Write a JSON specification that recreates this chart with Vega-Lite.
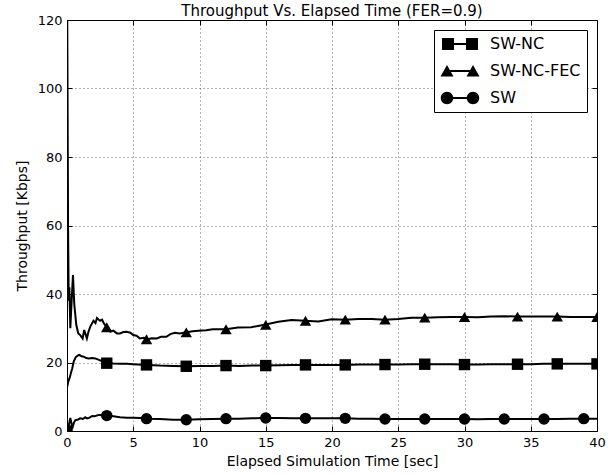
{
  "$schema": "https://vega.github.io/schema/vega-lite/v6.json",
  "width": 530,
  "height": 411,
  "autosize": {"type": "none"},
  "padding": {"left": 67, "top": 20, "right": 18, "bottom": 44},
  "background": "white",
  "title": {"text": "Throughput Vs. Elapsed Time (FER=0.9)", "fontSize": 15, "font": "DejaVu Sans", "fontWeight": "normal", "color": "#000", "offset": -5, "anchor": "middle"},
  "config": {
    "view": {"stroke": "#000", "strokeWidth": 1},
    "font": "DejaVu Sans"
  },
  "datasets": {
    "curves": [
      {"series": "SW-NC-FEC", "time": 0.02, "kbps": 120},
      {"series": "SW-NC-FEC", "time": 0.08, "kbps": 60},
      {"series": "SW-NC-FEC", "time": 0.13, "kbps": 38},
      {"series": "SW-NC-FEC", "time": 0.18, "kbps": 42},
      {"series": "SW-NC-FEC", "time": 0.25, "kbps": 30},
      {"series": "SW-NC-FEC", "time": 0.35, "kbps": 38},
      {"series": "SW-NC-FEC", "time": 0.45, "kbps": 45.5},
      {"series": "SW-NC-FEC", "time": 0.55, "kbps": 37},
      {"series": "SW-NC-FEC", "time": 0.7, "kbps": 31},
      {"series": "SW-NC-FEC", "time": 0.85, "kbps": 28.5},
      {"series": "SW-NC-FEC", "time": 1.0, "kbps": 28},
      {"series": "SW-NC-FEC", "time": 1.18, "kbps": 27},
      {"series": "SW-NC-FEC", "time": 1.3, "kbps": 29.5},
      {"series": "SW-NC-FEC", "time": 1.5, "kbps": 27},
      {"series": "SW-NC-FEC", "time": 1.62, "kbps": 29},
      {"series": "SW-NC-FEC", "time": 1.76, "kbps": 30.5},
      {"series": "SW-NC-FEC", "time": 1.9, "kbps": 31.5},
      {"series": "SW-NC-FEC", "time": 2.0, "kbps": 32.2},
      {"series": "SW-NC-FEC", "time": 2.15, "kbps": 31.5},
      {"series": "SW-NC-FEC", "time": 2.26, "kbps": 33},
      {"series": "SW-NC-FEC", "time": 2.4, "kbps": 32.5},
      {"series": "SW-NC-FEC", "time": 2.5, "kbps": 32.2},
      {"series": "SW-NC-FEC", "time": 2.65, "kbps": 32.5},
      {"series": "SW-NC-FEC", "time": 2.77, "kbps": 31.5},
      {"series": "SW-NC-FEC", "time": 3.0, "kbps": 30.3},
      {"series": "SW-NC-FEC", "time": 3.27, "kbps": 29},
      {"series": "SW-NC-FEC", "time": 3.5, "kbps": 29.3},
      {"series": "SW-NC-FEC", "time": 3.77, "kbps": 28.5},
      {"series": "SW-NC-FEC", "time": 4.0, "kbps": 28.5},
      {"series": "SW-NC-FEC", "time": 4.25, "kbps": 28.9},
      {"series": "SW-NC-FEC", "time": 4.5, "kbps": 29},
      {"series": "SW-NC-FEC", "time": 4.78, "kbps": 28.7},
      {"series": "SW-NC-FEC", "time": 5.0, "kbps": 28},
      {"series": "SW-NC-FEC", "time": 5.25, "kbps": 27.8},
      {"series": "SW-NC-FEC", "time": 5.5, "kbps": 27},
      {"series": "SW-NC-FEC", "time": 5.8, "kbps": 27.2},
      {"series": "SW-NC-FEC", "time": 6.1, "kbps": 26.8},
      {"series": "SW-NC-FEC", "time": 6.4, "kbps": 27.1},
      {"series": "SW-NC-FEC", "time": 6.77, "kbps": 27},
      {"series": "SW-NC-FEC", "time": 7.1, "kbps": 27.5},
      {"series": "SW-NC-FEC", "time": 7.5, "kbps": 27.5},
      {"series": "SW-NC-FEC", "time": 7.8, "kbps": 28.3},
      {"series": "SW-NC-FEC", "time": 8.15, "kbps": 28.7},
      {"series": "SW-NC-FEC", "time": 8.5, "kbps": 28.5},
      {"series": "SW-NC-FEC", "time": 9.0, "kbps": 28.8},
      {"series": "SW-NC-FEC", "time": 9.5, "kbps": 29.1},
      {"series": "SW-NC-FEC", "time": 9.9, "kbps": 29.3},
      {"series": "SW-NC-FEC", "time": 10.5, "kbps": 29.4},
      {"series": "SW-NC-FEC", "time": 11.0, "kbps": 29.7},
      {"series": "SW-NC-FEC", "time": 12.0, "kbps": 29.7},
      {"series": "SW-NC-FEC", "time": 12.9, "kbps": 30.2},
      {"series": "SW-NC-FEC", "time": 13.9, "kbps": 30.3},
      {"series": "SW-NC-FEC", "time": 14.9, "kbps": 31},
      {"series": "SW-NC-FEC", "time": 15.95, "kbps": 31.9},
      {"series": "SW-NC-FEC", "time": 16.96, "kbps": 32.4},
      {"series": "SW-NC-FEC", "time": 17.96, "kbps": 32.2},
      {"series": "SW-NC-FEC", "time": 18.97, "kbps": 32},
      {"series": "SW-NC-FEC", "time": 19.98, "kbps": 32.6},
      {"series": "SW-NC-FEC", "time": 21, "kbps": 32.5},
      {"series": "SW-NC-FEC", "time": 22, "kbps": 32.7},
      {"series": "SW-NC-FEC", "time": 23, "kbps": 32.7},
      {"series": "SW-NC-FEC", "time": 24, "kbps": 32.5},
      {"series": "SW-NC-FEC", "time": 25, "kbps": 32.7},
      {"series": "SW-NC-FEC", "time": 26, "kbps": 33.1},
      {"series": "SW-NC-FEC", "time": 27, "kbps": 33.1},
      {"series": "SW-NC-FEC", "time": 28, "kbps": 33.2},
      {"series": "SW-NC-FEC", "time": 29, "kbps": 33.3},
      {"series": "SW-NC-FEC", "time": 30, "kbps": 33.3},
      {"series": "SW-NC-FEC", "time": 31, "kbps": 33.2},
      {"series": "SW-NC-FEC", "time": 32, "kbps": 33.4},
      {"series": "SW-NC-FEC", "time": 33, "kbps": 33.5},
      {"series": "SW-NC-FEC", "time": 34, "kbps": 33.4},
      {"series": "SW-NC-FEC", "time": 35, "kbps": 33.4},
      {"series": "SW-NC-FEC", "time": 36, "kbps": 33.4},
      {"series": "SW-NC-FEC", "time": 37, "kbps": 33.4},
      {"series": "SW-NC-FEC", "time": 38, "kbps": 33.3},
      {"series": "SW-NC-FEC", "time": 39, "kbps": 33.3},
      {"series": "SW-NC-FEC", "time": 40, "kbps": 33.3},
      {"series": "SW-NC", "time": 0.02, "kbps": 13},
      {"series": "SW-NC", "time": 0.1, "kbps": 14.5},
      {"series": "SW-NC", "time": 0.2, "kbps": 15.5},
      {"series": "SW-NC", "time": 0.3, "kbps": 17},
      {"series": "SW-NC", "time": 0.4, "kbps": 18.3},
      {"series": "SW-NC", "time": 0.5, "kbps": 20.2},
      {"series": "SW-NC", "time": 0.65, "kbps": 21.5},
      {"series": "SW-NC", "time": 0.8, "kbps": 22},
      {"series": "SW-NC", "time": 0.93, "kbps": 22.2},
      {"series": "SW-NC", "time": 1.1, "kbps": 21.8},
      {"series": "SW-NC", "time": 1.26, "kbps": 21.7},
      {"series": "SW-NC", "time": 1.45, "kbps": 21.3},
      {"series": "SW-NC", "time": 1.64, "kbps": 21.2},
      {"series": "SW-NC", "time": 1.9, "kbps": 21.3},
      {"series": "SW-NC", "time": 2.14, "kbps": 21.2},
      {"series": "SW-NC", "time": 2.5, "kbps": 20.6},
      {"series": "SW-NC", "time": 2.9, "kbps": 19.9},
      {"series": "SW-NC", "time": 3.5, "kbps": 19.7},
      {"series": "SW-NC", "time": 4.0, "kbps": 19.6},
      {"series": "SW-NC", "time": 4.5, "kbps": 19.6},
      {"series": "SW-NC", "time": 5.0, "kbps": 19.5},
      {"series": "SW-NC", "time": 6.0, "kbps": 19.3},
      {"series": "SW-NC", "time": 7.0, "kbps": 19.1},
      {"series": "SW-NC", "time": 8.0, "kbps": 19.0},
      {"series": "SW-NC", "time": 9.0, "kbps": 18.9},
      {"series": "SW-NC", "time": 10, "kbps": 19.0},
      {"series": "SW-NC", "time": 11, "kbps": 19.0},
      {"series": "SW-NC", "time": 12, "kbps": 19.1},
      {"series": "SW-NC", "time": 13, "kbps": 19.0},
      {"series": "SW-NC", "time": 14, "kbps": 19.1},
      {"series": "SW-NC", "time": 15, "kbps": 19.1},
      {"series": "SW-NC", "time": 16, "kbps": 19.2},
      {"series": "SW-NC", "time": 17, "kbps": 19.3},
      {"series": "SW-NC", "time": 18, "kbps": 19.3},
      {"series": "SW-NC", "time": 19, "kbps": 19.3},
      {"series": "SW-NC", "time": 20, "kbps": 19.3},
      {"series": "SW-NC", "time": 21, "kbps": 19.3},
      {"series": "SW-NC", "time": 22, "kbps": 19.4},
      {"series": "SW-NC", "time": 23, "kbps": 19.4},
      {"series": "SW-NC", "time": 24, "kbps": 19.4},
      {"series": "SW-NC", "time": 25, "kbps": 19.4},
      {"series": "SW-NC", "time": 26, "kbps": 19.5},
      {"series": "SW-NC", "time": 27, "kbps": 19.5},
      {"series": "SW-NC", "time": 28, "kbps": 19.5},
      {"series": "SW-NC", "time": 29, "kbps": 19.5},
      {"series": "SW-NC", "time": 30, "kbps": 19.4},
      {"series": "SW-NC", "time": 31, "kbps": 19.4},
      {"series": "SW-NC", "time": 32, "kbps": 19.5},
      {"series": "SW-NC", "time": 33, "kbps": 19.5},
      {"series": "SW-NC", "time": 34, "kbps": 19.5},
      {"series": "SW-NC", "time": 35, "kbps": 19.5},
      {"series": "SW-NC", "time": 36, "kbps": 19.6},
      {"series": "SW-NC", "time": 37, "kbps": 19.6},
      {"series": "SW-NC", "time": 38, "kbps": 19.6},
      {"series": "SW-NC", "time": 39, "kbps": 19.6},
      {"series": "SW-NC", "time": 40, "kbps": 19.6},
      {"series": "SW", "time": 0.02, "kbps": 1.0},
      {"series": "SW", "time": 0.1, "kbps": 0.8},
      {"series": "SW", "time": 0.18, "kbps": 2.5},
      {"series": "SW", "time": 0.25, "kbps": 3.8},
      {"series": "SW", "time": 0.35, "kbps": 2.0},
      {"series": "SW", "time": 0.43, "kbps": 1.2},
      {"series": "SW", "time": 0.53, "kbps": 2.5},
      {"series": "SW", "time": 0.63, "kbps": 3.2},
      {"series": "SW", "time": 0.8, "kbps": 3.3},
      {"series": "SW", "time": 1.0, "kbps": 3.7},
      {"series": "SW", "time": 1.2, "kbps": 3.5},
      {"series": "SW", "time": 1.38, "kbps": 4.0},
      {"series": "SW", "time": 1.5, "kbps": 3.7},
      {"series": "SW", "time": 1.64, "kbps": 3.8},
      {"series": "SW", "time": 1.9, "kbps": 4.4},
      {"series": "SW", "time": 2.1, "kbps": 4.3},
      {"series": "SW", "time": 2.4, "kbps": 4.7},
      {"series": "SW", "time": 2.7, "kbps": 4.6},
      {"series": "SW", "time": 3.0, "kbps": 4.5},
      {"series": "SW", "time": 3.5, "kbps": 4.3},
      {"series": "SW", "time": 4.0, "kbps": 4.0},
      {"series": "SW", "time": 4.5, "kbps": 3.9},
      {"series": "SW", "time": 5.0, "kbps": 3.9},
      {"series": "SW", "time": 5.5, "kbps": 3.8},
      {"series": "SW", "time": 6.0, "kbps": 3.6},
      {"series": "SW", "time": 7.0, "kbps": 3.5},
      {"series": "SW", "time": 8.0, "kbps": 3.3},
      {"series": "SW", "time": 9.0, "kbps": 3.3},
      {"series": "SW", "time": 10, "kbps": 3.4},
      {"series": "SW", "time": 11, "kbps": 3.5},
      {"series": "SW", "time": 12, "kbps": 3.6},
      {"series": "SW", "time": 13, "kbps": 3.6},
      {"series": "SW", "time": 14, "kbps": 3.7},
      {"series": "SW", "time": 15, "kbps": 3.8},
      {"series": "SW", "time": 16, "kbps": 3.8},
      {"series": "SW", "time": 17, "kbps": 3.7},
      {"series": "SW", "time": 18, "kbps": 3.7},
      {"series": "SW", "time": 19, "kbps": 3.7},
      {"series": "SW", "time": 20, "kbps": 3.7},
      {"series": "SW", "time": 21, "kbps": 3.7},
      {"series": "SW", "time": 22, "kbps": 3.6},
      {"series": "SW", "time": 23, "kbps": 3.6},
      {"series": "SW", "time": 24, "kbps": 3.5},
      {"series": "SW", "time": 25, "kbps": 3.5},
      {"series": "SW", "time": 26, "kbps": 3.5},
      {"series": "SW", "time": 27, "kbps": 3.5},
      {"series": "SW", "time": 28, "kbps": 3.5},
      {"series": "SW", "time": 29, "kbps": 3.5},
      {"series": "SW", "time": 30, "kbps": 3.5},
      {"series": "SW", "time": 31, "kbps": 3.4},
      {"series": "SW", "time": 32, "kbps": 3.5},
      {"series": "SW", "time": 33, "kbps": 3.5},
      {"series": "SW", "time": 34, "kbps": 3.5},
      {"series": "SW", "time": 35, "kbps": 3.5},
      {"series": "SW", "time": 36, "kbps": 3.5},
      {"series": "SW", "time": 37, "kbps": 3.5},
      {"series": "SW", "time": 38, "kbps": 3.6},
      {"series": "SW", "time": 39, "kbps": 3.6},
      {"series": "SW", "time": 40, "kbps": 3.6}
    ],
    "markers": [
      {"series": "SW-NC", "time": 0, "kbps": 0},
      {"series": "SW-NC", "time": 3, "kbps": 19.8},
      {"series": "SW-NC", "time": 6, "kbps": 19.3},
      {"series": "SW-NC", "time": 9, "kbps": 18.9},
      {"series": "SW-NC", "time": 12, "kbps": 19.1},
      {"series": "SW-NC", "time": 15, "kbps": 19.1},
      {"series": "SW-NC", "time": 18, "kbps": 19.3},
      {"series": "SW-NC", "time": 21, "kbps": 19.3},
      {"series": "SW-NC", "time": 24, "kbps": 19.4},
      {"series": "SW-NC", "time": 27, "kbps": 19.5},
      {"series": "SW-NC", "time": 30, "kbps": 19.4},
      {"series": "SW-NC", "time": 34, "kbps": 19.5},
      {"series": "SW-NC", "time": 37, "kbps": 19.6},
      {"series": "SW-NC", "time": 40, "kbps": 19.6},
      {"series": "SW-NC-FEC", "time": 3, "kbps": 30.3},
      {"series": "SW-NC-FEC", "time": 6, "kbps": 26.8},
      {"series": "SW-NC-FEC", "time": 9, "kbps": 28.8},
      {"series": "SW-NC-FEC", "time": 12, "kbps": 29.7},
      {"series": "SW-NC-FEC", "time": 15, "kbps": 31},
      {"series": "SW-NC-FEC", "time": 18, "kbps": 32.2},
      {"series": "SW-NC-FEC", "time": 21, "kbps": 32.5},
      {"series": "SW-NC-FEC", "time": 24, "kbps": 32.5},
      {"series": "SW-NC-FEC", "time": 27, "kbps": 33.1},
      {"series": "SW-NC-FEC", "time": 30, "kbps": 33.3},
      {"series": "SW-NC-FEC", "time": 34, "kbps": 33.4},
      {"series": "SW-NC-FEC", "time": 37, "kbps": 33.4},
      {"series": "SW-NC-FEC", "time": 40, "kbps": 33.3},
      {"series": "SW", "time": 3, "kbps": 4.5},
      {"series": "SW", "time": 6, "kbps": 3.6},
      {"series": "SW", "time": 9, "kbps": 3.3},
      {"series": "SW", "time": 12, "kbps": 3.6},
      {"series": "SW", "time": 15, "kbps": 3.8},
      {"series": "SW", "time": 18, "kbps": 3.7},
      {"series": "SW", "time": 21, "kbps": 3.7},
      {"series": "SW", "time": 24, "kbps": 3.5},
      {"series": "SW", "time": 27, "kbps": 3.5},
      {"series": "SW", "time": 30, "kbps": 3.5},
      {"series": "SW", "time": 33, "kbps": 3.5},
      {"series": "SW", "time": 36, "kbps": 3.5},
      {"series": "SW", "time": 39, "kbps": 3.6}
    ]
  },
  "layer": [
    {
      "data": {"name": "curves"},
      "mark": {"type": "line", "color": "#000", "strokeWidth": 2, "clip": true},
      "encoding": {
        "x": {"field": "time", "type": "quantitative", "scale": {"domain": [0, 40], "nice": false, "zero": false},
          "axis": {"orient": "bottom", "values": [0, 5, 10, 15, 20, 25, 30, 35, 40], "labelFontSize": 13, "labelColor": "#000", "labelFlush": false, "labelOverlap": false, "labelPadding": 10, "tickSize": -5, "tickColor": "#000", "domainColor": "#000", "grid": true, "gridColor": "#000", "gridOpacity": 0.6, "gridDash": [1, 3], "gridWidth": 1, "title": "Elapsed Simulation Time [sec]", "titleFontSize": 14, "titleFontWeight": "normal", "titleColor": "#000", "titlePadding": 5}},
        "y": {"field": "kbps", "type": "quantitative", "scale": {"domain": [0, 120], "nice": false},
          "axis": {"orient": "left", "values": [0, 20, 40, 60, 80, 100, 120], "labelFontSize": 13, "labelColor": "#000", "labelFlush": false, "labelOverlap": false, "labelPadding": 10, "tickSize": -5, "tickColor": "#000", "domainColor": "#000", "grid": true, "gridColor": "#000", "gridOpacity": 0.6, "gridDash": [1, 3], "gridWidth": 1, "title": "Throughput [Kbps]", "titleFontSize": 14, "titleFontWeight": "normal", "titleColor": "#000", "titlePadding": 8}},
        "detail": {"field": "series", "type": "nominal"}
      }
    },
    {
      "data": {"name": "markers"},
      "mark": {"type": "point", "filled": true, "color": "#000", "opacity": 1, "size": 130, "clip": true},
      "encoding": {
        "x": {"field": "time", "type": "quantitative", "axis": null},
        "y": {"field": "kbps", "type": "quantitative", "axis": null},
        "shape": {"field": "series", "type": "nominal", "scale": {"domain": ["SW-NC", "SW-NC-FEC", "SW"], "range": ["square", "triangle-up", "circle"]}, "legend": null}
      }
    },
    {
      "data": {"name": "markers"},
      "mark": {"type": "point", "filled": true, "color": "#000", "opacity": 0, "size": 100},
      "encoding": {
        "x": {"field": "time", "type": "quantitative",
          "axis": {"orient": "top", "values": [0, 5, 10, 15, 20, 25, 30, 35, 40], "labels": false, "tickSize": -5, "tickColor": "#000", "domain": false, "grid": false, "title": null}},
        "y": {"field": "kbps", "type": "quantitative",
          "axis": {"orient": "right", "values": [0, 20, 40, 60, 80, 100, 120], "labels": false, "tickSize": -5, "tickColor": "#000", "domain": false, "grid": false, "title": null}},
        "shape": {"field": "series", "type": "nominal",
          "scale": {"domain": ["SW-NC", "SW-NC-FEC", "SW"], "range": [
            "M-3.6,-1.2H-1.2V-0.2H1.2V-1.2H3.6V1.2H1.2V0.2H-1.2V1.2H-3.6Z",
            "M-3.9,1.1L-2.6,-1.2L-1.3,1.1Z M-2.6,-0.2H2.6V0.2H-2.6Z M1.3,1.1L2.6,-1.2L3.9,1.1Z",
            "M-3.85,0A1.25,1.25 0 1,1 -1.35,0A1.25,1.25 0 1,1 -3.85,0Z M-2.6,-0.2H2.6V0.2H-2.6Z M1.35,0A1.25,1.25 0 1,1 3.85,0A1.25,1.25 0 1,1 1.35,0Z"
          ]},
          "legend": {"title": null, "orient": "top-right", "offset": 10, "padding": 6, "strokeColor": "#000", "fillColor": "#fff", "cornerRadius": 0, "labelFontSize": 16, "labelColor": "#000", "labelFont": "DejaVu Sans", "symbolSize": 100, "symbolOpacity": 1, "symbolFillColor": "#000", "symbolStrokeWidth": 0, "symbolOffset": 12, "labelOffset": 22, "rowPadding": 11, "labelLimit": 200}
        }
      }
    }
  ],
  "resolve": {"scale": {"shape": "independent"}, "axis": {"x": "independent", "y": "independent"}, "legend": {"shape": "independent"}}
}
